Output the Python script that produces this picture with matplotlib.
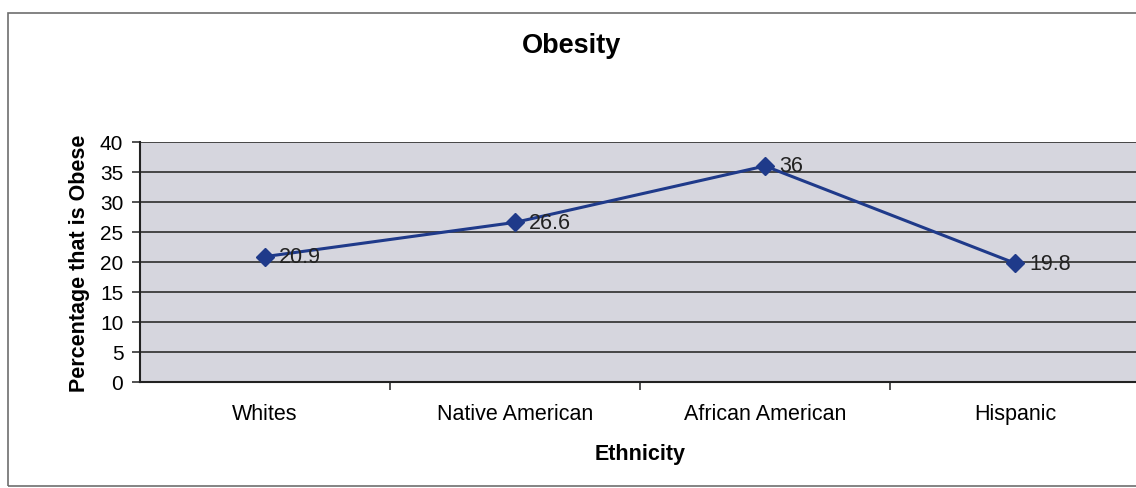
import matplotlib
matplotlib.use("Agg")
import matplotlib.pyplot as plt
from matplotlib.patches import Rectangle

plt.rcParams["font.family"] = ["Liberation Sans", "DejaVu Sans"]

# data
groups = ["Whites", "Native American", "African American", "Hispanic"]
obese_pct = [20.9, 26.6, 36, 19.8]
y_ticks = [0, 5, 10, 15, 20, 25, 30, 35, 40]

W, H = 1136, 489
fig = plt.figure(figsize=(W / 100, H / 100), dpi=100)
fig.patch.set_facecolor("white")

# outer chart border (scanned Excel chart)
fig.patches.append(Rectangle((8 / W, 2 / H), 1.2, (H - 16) / H,
                             transform=fig.transFigure, fill=False,
                             edgecolor="#6e6e6e", linewidth=1.2))

ax = fig.add_axes([140 / W, 1 - 383 / H, 1000 / W, 240 / H])
ax.set_facecolor("#d6d6de")

x = list(range(len(groups)))
ax.plot(x, obese_pct, color="#1f3a8a", linewidth=2.2, marker="D",
        markersize=9, markerfacecolor="#1f3a8a", markeredgecolor="#1f3a8a",
        zorder=4)
for xi, v in zip(x, obese_pct):
    ax.annotate(f"{v:g}", (xi, v), xytext=(10, 0), textcoords="offset points",
                va="center", ha="left", fontsize=15.5, color="#222222",
                zorder=5)

ax.set_xlim(-0.5, len(groups) - 0.5)
ax.set_ylim(0, 40)
ax.set_yticks(y_ticks)
ax.yaxis.grid(True, color="#3a3a3a", linewidth=1.3)
ax.set_axisbelow(True)

ax.set_xticks(x)
ax.set_xticklabels(groups, fontsize=15.5)
ax.set_xticks([i + 0.5 for i in x[:-1]], minor=True)
ax.tick_params(axis="x", which="major", length=0, pad=15)
ax.tick_params(axis="x", which="minor", length=6, width=1.2, color="#333333")
ax.tick_params(axis="y", labelsize=15, length=6, width=1.2, pad=6,
               color="#333333")

for side in ["top", "right"]:
    ax.spines[side].set_visible(False)
ax.spines["left"].set_color("#222222")
ax.spines["left"].set_linewidth(1.5)
ax.spines["bottom"].set_color("#222222")
ax.spines["bottom"].set_linewidth(1.5)

ax.set_ylabel("Percentage that is Obese", fontsize=15.5, fontweight="bold",
              labelpad=7)
ax.set_xlabel("Ethnicity", fontsize=15.5, fontweight="bold", labelpad=14)

fig.text(572 / W, 1 - 46 / H, "Obesity", ha="center", va="center",
         fontsize=19.5, fontweight="bold")

fig.savefig("out.png", dpi=100)
